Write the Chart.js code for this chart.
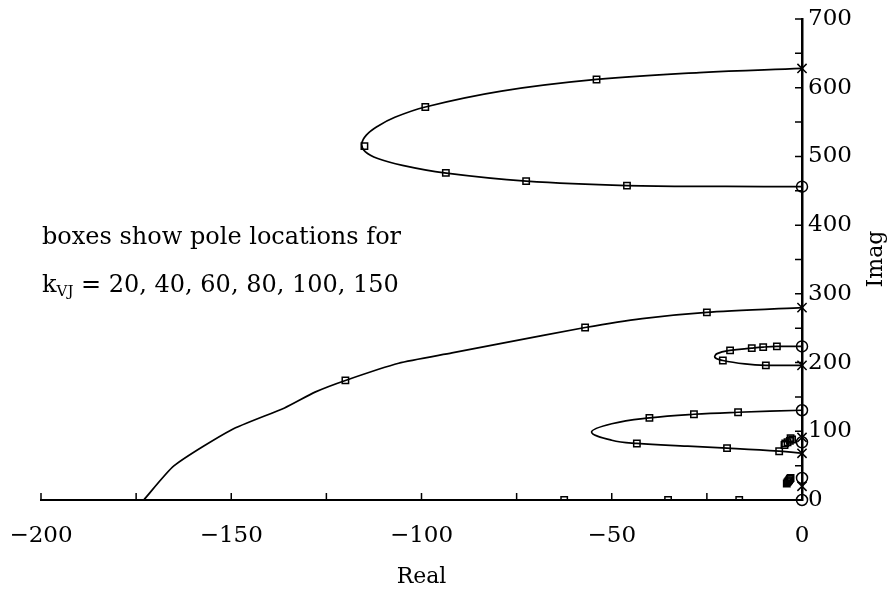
<!DOCTYPE html>
<html>
<head>
<meta charset="utf-8">
<script src="https://cdn.jsdelivr.net/npm/chart.js@4.4.0/dist/chart.umd.min.js"></script>
<style>
  html, body { margin: 0; padding: 0; background: #fff; }
</style>
</head>
<body>
<canvas id="locus" width="893" height="596"></canvas>
<script>
var gains = [20, 40, 60, 80, 100, 150];
var xTicks = [-200, -150, -100, -50, 0];
var yTicks = [0, 100, 200, 300, 400, 500, 600, 700];

// locus branches as [real, imag]
var topLoop = [[0, 628], [-27, 622], [-54, 612], [-79, 595], [-99, 572], [-107, 557], [-111.5, 544],
  [-114.5, 531], [-115.7, 518], [-114.8, 507], [-111.5, 497], [-105, 487], [-94, 476], [-72.5, 464],
  [-46, 457.5], [-20, 456.3], [0, 456]];
var outerBranch = [[0, 280], [-25, 273], [-42, 264], [-57, 251], [-79, 228], [-92, 214], [-106, 199],
  [-120, 174], [-128, 157], [-136, 134], [-150, 102], [-165, 50], [-173, 0]];
var smallLoop = [[0, 223.5], [-6.6, 223.5], [-10.2, 222.5], [-13.2, 221], [-18.9, 217.7], [-22.3, 213],
  [-22.9, 207.5], [-20.8, 203], [-15, 198], [-9.5, 196], [0, 196]];
var midLoop = [[0, 130.6], [-16.8, 127.7], [-28.4, 124.8], [-40.1, 119.5], [-50, 111], [-55.3, 99],
  [-50, 87], [-43.4, 82.3], [-30, 78.3], [-19.7, 75.5], [-6, 71], [0, 68]];

// pole positions for each gain in gains
var topBoxes = [[-54, 612], [-99, 572], [-115, 515], [-93.6, 476], [-72.5, 464], [-46, 457.5]];
var outerBoxes = [[-25, 273], [-57, 251], [-120, 174]];
var realBoxes = [[-62.5, 0], [-35.2, 0], [-16.5, 0]];
var smallBoxes = [[-6.6, 223.5], [-10.2, 222.5], [-13.2, 221], [-18.9, 217.7], [-20.8, 203], [-9.5, 196]];
var midBoxes = [[-16.8, 127.7], [-28.4, 124.8], [-40.1, 119.5], [-43.4, 82.3], [-19.7, 75.5], [-6, 71]];
var nearBoxes = [[-2.6, 88], [-3.2, 86], [-3.8, 84], [-4.4, 82.5], [-3, 90], [-4.6, 80]];
var lowBoxes = [[-4, 24], [-3.8, 26], [-3.6, 27.5], [-3.4, 29], [-3.2, 30.5], [-3, 32]];

var openPoles = [[0, 628], [0, 280], [0, 196], [0, 91], [0, 68], [0, 20]];
var openZeros = [[0, 456], [0, 223.5], [0, 130.6], [0, 84], [0, 32], [0, 0]];

var FONT = '"DejaVu Serif", serif';

function pts(list) {
  return list.map(function (p) { return { x: p[0], y: p[1] }; });
}

function path(list, tension) {
  return {
    data: pts(list), showLine: true, pointRadius: 0, borderColor: '#000',
    borderWidth: 1.7, tension: tension, fill: false
  };
}

function marks(list, style, radius) {
  return {
    data: pts(list), showLine: false, pointStyle: style, pointRadius: radius,
    pointBorderColor: '#000', pointBackgroundColor: 'rgba(0,0,0,0)', pointBorderWidth: 1.5,
    clip: false
  };
}

// inward tick marks: every 25 on Real, every 50 on Imag
var tickMarks = {
  id: 'tickMarks',
  afterDraw: function (chart) {
    var ctx = chart.ctx, xs = chart.scales.x, ys = chart.scales.y, a = chart.chartArea;
    ctx.save();
    ctx.strokeStyle = '#000';
    ctx.lineWidth = 1.5;
    ctx.beginPath();
    for (var v = xs.min; v < xs.max; v += 25) {
      var px = xs.getPixelForValue(v);
      ctx.moveTo(px, a.bottom);
      ctx.lineTo(px, a.bottom - 7);
    }
    for (var w = ys.min; w <= ys.max; w += 50) {
      var py = ys.getPixelForValue(w);
      ctx.moveTo(a.right, py);
      ctx.lineTo(a.right - 7, py);
    }
    ctx.stroke();
    ctx.restore();
  }
};

var notes = {
  id: 'notes',
  afterDraw: function (chart) {
    var ctx = chart.ctx, a = chart.chartArea;
    ctx.save();
    ctx.fillStyle = '#000';
    ctx.textAlign = 'left';
    ctx.textBaseline = 'alphabetic';
    ctx.font = '24px ' + FONT;
    var x0 = a.left + 1;
    ctx.fillText('boxes show pole locations for', x0, a.top + 225);
    var y2 = a.top + 273;
    ctx.fillText('k', x0, y2);
    var kw = ctx.measureText('k').width;
    ctx.font = '15px ' + FONT;
    ctx.fillText('VJ', x0 + kw, y2 + 4);
    var sw = ctx.measureText('VJ').width;
    ctx.font = '24px ' + FONT;
    ctx.fillText(' = ' + gains.join(', '), x0 + kw + sw, y2);

    // rotated axis title on the right
    ctx.translate(a.right + 74, a.top + 240);
    ctx.rotate(-Math.PI / 2);
    ctx.textAlign = 'center';
    ctx.textBaseline = 'middle';
    ctx.font = '22px ' + FONT;
    ctx.fillText('Imag', 0, 0);
    ctx.restore();
  }
};

function minus(v) {
  return String(v).replace('-', '\u2212');
}

new Chart(document.getElementById('locus'), {
  type: 'scatter',
  data: {
    datasets: [
      path(topLoop, 0.4),
      path(outerBranch, 0.2),
      path(smallLoop, 0.4),
      path(midLoop, 0.4),
      marks(topBoxes, 'rect', 4.5),
      marks(outerBoxes, 'rect', 4.5),
      Object.assign(marks(realBoxes, 'rect', 4.5), { clip: 0 }),
      marks(smallBoxes, 'rect', 4.5),
      marks(midBoxes, 'rect', 4.5),
      marks(nearBoxes, 'rect', 4.5),
      marks(lowBoxes, 'rect', 4.5),
      marks(openPoles, 'crossRot', 6.5),
      marks(openZeros, 'circle', 5.5)
    ]
  },
  options: {
    responsive: false,
    animation: false,
    layout: { padding: { left: 41, top: 19, right: 0, bottom: 0 } },
    plugins: { legend: { display: false }, tooltip: { enabled: false } },
    scales: {
      x: {
        type: 'linear', position: 'bottom', min: xTicks[0], max: xTicks[xTicks.length - 1],
        afterBuildTicks: function (s) { s.ticks = xTicks.map(function (v) { return { value: v }; }); },
        afterFit: function (s) { s.height = 96; s.paddingLeft = 0; s.paddingRight = 0; },
        ticks: {
          color: '#000', font: { family: FONT, size: 23 }, padding: 22, maxRotation: 0,
          autoSkip: false, callback: minus
        },
        grid: { display: false, drawTicks: false },
        border: { display: true, color: '#000', width: 2 },
        title: {
          display: true, text: 'Real', color: '#000',
          font: { family: FONT, size: 22 }, padding: { top: 0, bottom: 6 }
        }
      },
      y: {
        type: 'linear', position: 'right', min: yTicks[0], max: yTicks[yTicks.length - 1],
        afterBuildTicks: function (s) { s.ticks = yTicks.map(function (v) { return { value: v }; }); },
        afterFit: function (s) { s.width = 91; s.paddingTop = 0; s.paddingBottom = 0; },
        ticks: { color: '#000', font: { family: FONT, size: 23 }, padding: 6 },
        grid: { display: false, drawTicks: false },
        border: { display: true, color: '#000', width: 2.5 }
      }
    }
  },
  plugins: [tickMarks, notes]
});
</script>
</body>
</html>
